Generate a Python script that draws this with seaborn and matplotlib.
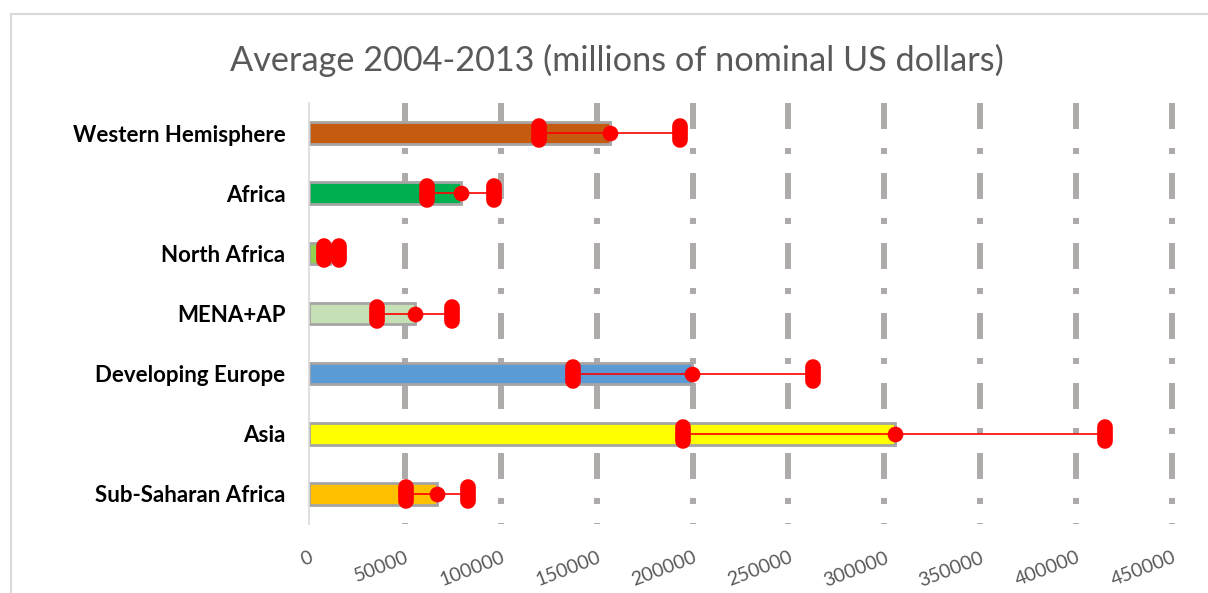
import numpy as np
import pandas as pd
import matplotlib
matplotlib.use("Agg")
import matplotlib.pyplot as plt
import seaborn as sns
from matplotlib.markers import MarkerStyle
from matplotlib.patches import Rectangle

# ---- data ----
regions = ["Western Hemisphere", "Africa", "North Africa", "MENA+AP",
           "Developing Europe", "Asia", "Sub-Saharan Africa"]
avg_values = [157000, 79000, 11000, 55500, 199500, 305500, 67000]
min_values = [120000, 61500, 8000, 35500, 137500, 195000, 50500]
max_values = [193500, 96500, 15500, 74500, 263000, 415000, 83000]
bar_colors = ["#C55A11", "#00B050", "#92D050", "#C5E0B4", "#5B9BD5", "#FFFF00", "#FFC000"]
x_ticks = [0, 50000, 100000, 150000, 200000, 250000, 300000, 350000, 400000, 450000]
x_tick_labels = [str(v) for v in x_ticks]
title = "Average 2004-2013 (millions of nominal US dollars)"

sns.set_theme(style="white")
plt.rcParams["font.family"] = ["Lato", "DejaVu Sans"]
plt.rcParams["lines.scale_dashes"] = False

W, H = 1208, 593
fig = plt.figure(figsize=(W / 100, H / 100), dpi=100)
ax = fig.add_axes([309 / W, (H - 524) / H, (1172 - 309) / W, 421 / H])

df = pd.DataFrame({"region": regions, "avg": avg_values,
                   "low": min_values, "high": max_values})

sns.barplot(data=df, x="avg", y="region", hue="region", palette=bar_colors,
            saturation=1, legend=False, orient="h", width=0.36,
            edgecolor="#A5A5A5", linewidth=2, errorbar=None, ax=ax, zorder=2)

pos = np.arange(len(regions))
ax.set_xlim(0, x_ticks[-1])
ax.set_ylim(len(regions) - 0.5, -0.5)

# dashed gridlines (none at zero), dash pattern starting at top
ax.vlines(x_ticks[1:], -0.5, len(regions) - 0.5, colors="#AEAAAA", linewidth=4.3,
          linestyles=[(0, (18.7, 13.7, 4.3, 13.7))], zorder=1, clip_on=False)

# ranges
ax.hlines(pos, df["low"], df["high"], colors="#FF0000", linewidth=1.2, zorder=3)
cap = MarkerStyle("|", capstyle="round")
ax.plot(df["low"], pos, linestyle="none", marker=cap, markersize=9.4,
        markeredgewidth=11.3, color="#FF0000", zorder=4)
ax.plot(df["high"], pos, linestyle="none", marker=cap, markersize=9.4,
        markeredgewidth=11.3, color="#FF0000", zorder=4)
ax.plot(df["avg"], pos, linestyle="none", marker="o", markersize=11.3,
        markeredgewidth=0, color="#FF0000", zorder=4)

for s in ["top", "right", "bottom"]:
    ax.spines[s].set_visible(False)
ax.spines["left"].set_color("#D9D9D9")
ax.spines["left"].set_linewidth(1.2)
ax.spines["left"].set_zorder(2.5)

ax.set_xticks(x_ticks)
ax.set_xticklabels(x_tick_labels, rotation=21, ha="right", va="top",
                   rotation_mode="anchor", color="#595959", fontsize=14)
ax.tick_params(axis="x", length=0, pad=18)
ax.tick_params(axis="y", length=0, pad=17)
for t in ax.get_yticklabels():
    t.set_fontweight("bold")
    t.set_fontsize(16)
    t.set_color("black")
ax.set_xlabel("")
ax.set_ylabel("")
ax.grid(False)

fig.text(616.5 / W, 1 - 60 / H, title, ha="center", va="center",
         fontsize=24.7, color="#595959")

fig.patches.append(Rectangle((11 / W, -0.1), 1.2, (H - 14) / H + 0.1,
                             transform=fig.transFigure, fill=False,
                             edgecolor="#D9D9D9", linewidth=1.5))

fig.savefig("out.png", dpi=100)
